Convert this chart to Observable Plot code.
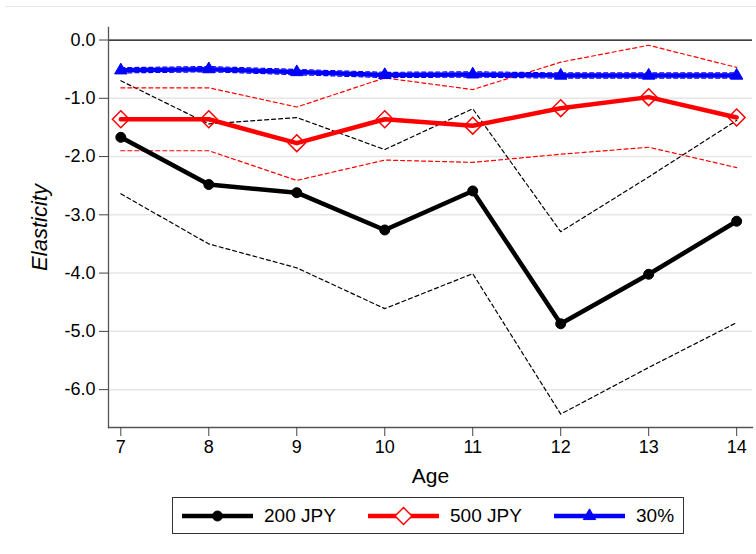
<!DOCTYPE html>
<html>
<head>
<meta charset="utf-8">
<script src="https://cdn.jsdelivr.net/npm/d3@7"></script>
<script src="https://cdn.jsdelivr.net/npm/@observablehq/plot@0.6"></script>
<style>
  html, body { margin: 0; padding: 0; background: #fff; }
  body { width: 756px; height: 554px; position: relative; overflow: hidden; font-family: "Liberation Sans", Arial, sans-serif; }
  #topline { position: absolute; top: 6px; left: 5px; right: 0; border-top: 1px solid #e8e8e8; }
  #chart { position: absolute; left: 0; top: 0; }
  #legend { position: absolute; left: 172px; top: 497px; width: 510px; height: 35px; border: 1px solid #333; box-sizing: content-box; }
  .item { position: absolute; top: 0; height: 35px; display: flex; align-items: center; font-size: 19px; color: #000; }
  .item svg { margin-right: 11px; }
</style>
</head>
<body>
<div id="topline"></div>
<div id="chart"></div>
<div id="legend"></div>
<script>
// ---- data ----
const ages = [7, 8, 9, 10, 11, 12, 13, 14];
const yTicks = [0, -1, -2, -3, -4, -5, -6];
const seriesNames = ["200 JPY", "500 JPY", "30%"];

const est200 = [-1.67, -2.48, -2.62, -3.26, -2.59, -4.87, -4.02, -3.11];
const lo200  = [-2.64, -3.50, -3.91, -4.61, -4.01, -6.42, -5.62, -4.85];
const hi200  = [-0.70, -1.44, -1.33, -1.88, -1.18, -3.29, -2.35, -1.38];

const est500 = [-1.36, -1.36, -1.77, -1.36, -1.47, -1.17, -0.98, -1.33];
const lo500  = [-1.90, -1.90, -2.41, -2.06, -2.10, -1.96, -1.84, -2.19];
const hi500  = [-0.82, -0.82, -1.15, -0.65, -0.85, -0.38, -0.09, -0.47];

const est30 = [-0.52, -0.50, -0.55, -0.60, -0.59, -0.61, -0.61, -0.61];
const lo30  = [-0.565, -0.545, -0.595, -0.645, -0.635, -0.655, -0.655, -0.655];
const hi30  = [-0.475, -0.455, -0.505, -0.555, -0.545, -0.565, -0.565, -0.565];

const colors = ["#000000", "#ff0000", "#0000ff"];

const rows = arr => ages.map((a, i) => ({age: a, v: arr[i]}));
const dashed = (arr, c) => Plot.line(rows(arr), {x: "age", y: "v", stroke: c, strokeWidth: 1.2, strokeDasharray: "4,3"});

const chart = Plot.plot({
  width: 756,
  height: 490,
  marginLeft: 108,
  marginRight: 4,
  marginTop: 27,
  marginBottom: 63,
  style: {fontFamily: "'Liberation Sans', Arial, sans-serif", fontSize: "18px", background: "transparent", color: "#000"},
  x: {domain: [6.86, 14.18]},
  y: {domain: [-6.65, 0.215]},
  marks: [
    Plot.gridY(yTicks.filter(d => d !== 0), {stroke: "#e6e6e6", strokeOpacity: 1, strokeWidth: 1.5}),
    Plot.ruleY([0], {stroke: "#000", strokeWidth: 1.3}),
    Plot.frame({anchor: "left", stroke: "#555", strokeWidth: 1.3}),
    Plot.frame({anchor: "bottom", stroke: "#555", strokeWidth: 1.3}),
    Plot.axisY({ticks: yTicks, tickFormat: d => d.toFixed(1), tickSize: 9, tickPadding: 4, stroke: "#444", label: null}),
    Plot.axisX({ticks: ages, tickFormat: d => String(d), tickSize: 9, tickPadding: 4, stroke: "#444", label: null}),
    Plot.text(["Elasticity"], {text: d => d, frameAnchor: "left", dx: -69, rotate: -90, fontStyle: "italic", fontSize: 22, textAnchor: "middle", lineAnchor: "middle"}),
    Plot.text(["Age"], {text: d => d, frameAnchor: "bottom", dy: 49, fontSize: 21, textAnchor: "middle", lineAnchor: "middle"}),
    dashed(lo200, colors[0]), dashed(hi200, colors[0]),
    dashed(lo500, colors[1]), dashed(hi500, colors[1]),
    dashed(lo30, colors[2]), dashed(hi30, colors[2]),
    Plot.line(rows(est200), {x: "age", y: "v", stroke: colors[0], strokeWidth: 4.5}),
    Plot.dot(rows(est200), {x: "age", y: "v", r: 5, fill: colors[0], stroke: colors[0], strokeWidth: 1}),
    Plot.line(rows(est500), {x: "age", y: "v", stroke: colors[1], strokeWidth: 4.5}),
    Plot.dot(rows(est500), {x: "age", y: "v", symbol: "diamond2", r: 7.6, fill: "none", stroke: colors[1], strokeWidth: 1.5}),
    Plot.line(rows(est30), {x: "age", y: "v", stroke: colors[2], strokeWidth: 4.5}),
    Plot.dot(rows(est30), {x: "age", y: "v", symbol: "triangle", r: 4.6, fill: colors[2], stroke: colors[2], strokeWidth: 1})
  ]
});
document.getElementById("chart").appendChild(chart);

// ---- legend ----
const legend = document.getElementById("legend");
const itemLefts = [9, 195, 381];
const syms = [d3.symbolCircle, d3.symbolDiamond2, d3.symbolTriangle];
const symSizes = [Math.PI * 25, Math.PI * 7.6 * 7.6, Math.PI * 4.6 * 4.6];
seriesNames.forEach((name, i) => {
  const div = document.createElement("div");
  div.className = "item";
  div.style.left = itemLefts[i] + "px";
  const svg = d3.create("svg").attr("width", 71).attr("height", 24);
  svg.append("line").attr("x1", 0).attr("x2", 71).attr("y1", 12).attr("y2", 12)
    .attr("stroke", colors[i]).attr("stroke-width", 4.5);
  svg.append("path").attr("d", d3.symbol(syms[i], symSizes[i])())
    .attr("transform", "translate(35.5,12)")
    .attr("fill", i === 1 ? "white" : colors[i])
    .attr("stroke", colors[i]).attr("stroke-width", i === 1 ? 1.5 : 1);
  div.appendChild(svg.node());
  const span = document.createElement("span");
  span.textContent = name;
  div.appendChild(span);
  legend.appendChild(div);
});
</script>
</body>
</html>
